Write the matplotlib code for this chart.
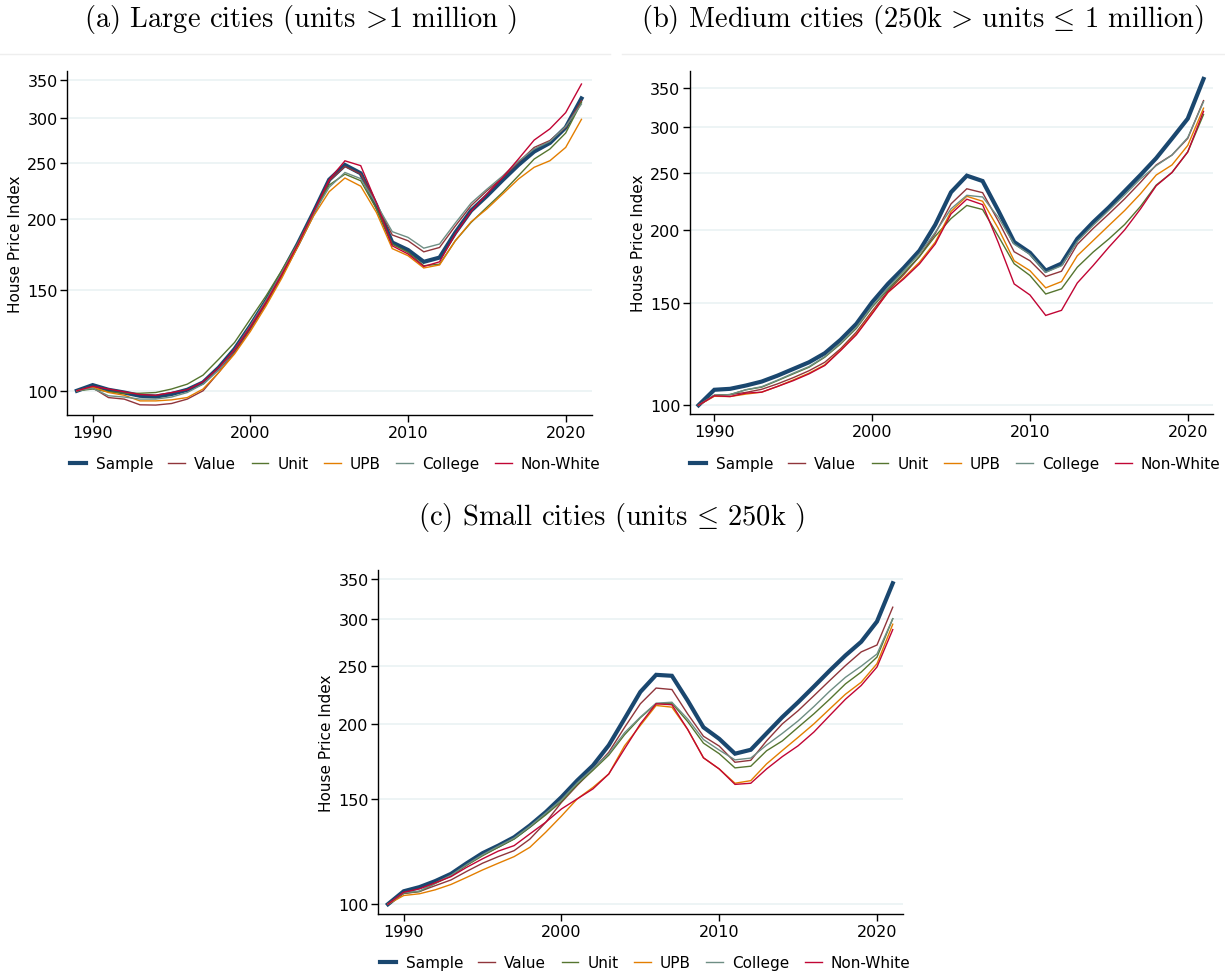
import numpy as np
import matplotlib
matplotlib.use('Agg')
import matplotlib.pyplot as plt
from matplotlib.ticker import NullLocator, FixedLocator, FixedFormatter

# 数据: 1989-2021 年房价指数
years = np.arange(1989, 2022)
series_names = ['Sample', 'Value', 'Unit', 'UPB', 'College', 'Non-White']

# (a) 大城市
large_sample = [100, 102.3, 100.4, 99.3, 98.0, 97.7, 98.7, 100.4, 103.4, 109.8, 118.3, 129.9, 143.7, 160.5, 180.5, 205, 234, 248.3, 240.1, 210.7, 181.7, 176.3, 168.1, 171.0, 189.1, 206.6, 219.2, 233.6, 248.3, 262.1, 271.4, 288.8, 324.6]
large_value = [100, 101.2, 97.3, 96.7, 94.5, 94.4, 95.0, 96.7, 100.0, 107.7, 116.5, 128, 142, 159, 179, 203.5, 233, 246.8, 239.5, 212, 187.3, 183.0, 175.0, 178.1, 194.2, 210.7, 223.7, 236, 251, 266.5, 274, 289, 321.7]
large_unit = [100, 100.7, 99.6, 99.0, 99.0, 99.3, 100.7, 102.7, 106.5, 113.6, 121.5, 133.5, 146.6, 162.5, 181, 205, 229, 239.3, 233, 208, 180.6, 174.6, 165.5, 166.5, 183.0, 197.0, 209.4, 222.4, 237.7, 254.3, 264.8, 282.4, 319.5]
large_upb = [100, 101.5, 99.3, 98.2, 96.0, 96.0, 96.4, 97.3, 100.7, 107.7, 116.0, 127.0, 140.8, 157.5, 178.5, 202, 223, 235.6, 228, 205, 177.3, 172.3, 164.0, 166.0, 183.0, 197.5, 208.0, 220.8, 234.6, 246.0, 252.6, 266.5, 298.4]
large_college = [100, 101, 98, 97.5, 96.7, 96.7, 97.5, 99.3, 102.7, 109, 118, 130, 144, 161, 180.5, 204, 227, 240.9, 235, 212, 189.8, 185.5, 177.6, 180.6, 196.5, 212.9, 225.2, 237.5, 252, 264.8, 273, 290, 317.3]
large_nonwhite = [100, 101.8, 100.7, 99.6, 98.5, 98.2, 99.3, 100.4, 103.7, 109.8, 118, 129.5, 143, 160, 180, 205, 234, 252.5, 247.6, 213, 179.3, 173.5, 165.0, 168.1, 188.0, 206, 220.8, 236.1, 254.3, 274.5, 287.2, 306.6, 344.0]

# (b) 中等城市
medium_sample = [100, 106.3, 106.7, 108.1, 109.8, 112.4, 115.4, 118.5, 122.8, 129.5, 137.9, 150.2, 161.5, 172.0, 184.2, 204.0, 232.0, 247.7, 242.5, 215.6, 190.6, 182.7, 170.2, 175.0, 193.0, 206.0, 218.5, 232.9, 248.3, 265.4, 286.8, 310.3, 363.0]
medium_value = [100, 104.0, 104.3, 105.2, 106.5, 108.8, 111.5, 114.6, 118.5, 125.0, 133.5, 145, 157, 167.5, 180, 197, 221.6, 235.2, 231.6, 207, 183.4, 177.0, 166.3, 169.8, 188.8, 201.0, 212.9, 226.0, 241.2, 258.4, 268.7, 287, 333.2]
medium_unit = [100, 104.0, 104.3, 106.3, 107.4, 110.2, 113.2, 116.2, 120.9, 127.4, 135.5, 147.3, 158, 168.5, 180, 195, 209.1, 220.2, 216.7, 195, 174.9, 167.0, 155.2, 158.4, 172.5, 183.1, 192.9, 204.2, 219.3, 238.6, 250.8, 272.1, 315.3]
medium_upb = [100, 103.6, 103.5, 104.5, 105.3, 107.7, 110.5, 113.5, 117.3, 124.3, 132.5, 144, 156, 165.5, 176, 190.5, 215, 228.3, 223.9, 201, 177.0, 170.2, 159.0, 163.0, 180.5, 191.6, 203.4, 215.8, 230.5, 248.3, 258.4, 279.1, 323.4]
medium_college = [100, 104.0, 104.3, 106.3, 107.6, 110.4, 113.5, 116.5, 121.2, 127.8, 136, 147.8, 159, 170, 182, 198, 217.3, 229.2, 227.7, 210, 189.0, 181.5, 169.1, 173.5, 191.0, 203.5, 216, 229.5, 244.5, 257.7, 268.7, 287.9, 331.8]
medium_nonwhite = [100, 103.8, 103.5, 104.9, 105.3, 107.7, 110.2, 113.2, 117.0, 124.1, 132.1, 143.5, 156.3, 164.7, 174.8, 189.1, 213.0, 225.7, 220.9, 190, 161.5, 154.6, 142.6, 145.5, 162.1, 173.6, 186.7, 199.9, 217.1, 238.0, 250.8, 272, 319.3]

# (c) 小城市
small_sample = [100, 105.1, 106.8, 109.3, 112.4, 117.1, 121.7, 125.3, 129.4, 135.4, 142.5, 151.0, 161.0, 170.6, 184.4, 204.2, 226.4, 241.8, 240.9, 219.0, 197.6, 189.0, 178.5, 181.2, 193.0, 205.5, 217.6, 231.1, 245.7, 260.5, 274.6, 296.9, 344.0]
small_value = [100, 104.2, 105.0, 107.4, 109.8, 113.5, 117.1, 120.1, 122.9, 128.5, 137, 148, 158, 168, 179.5, 197.5, 216.3, 229.8, 228.5, 208, 190.9, 183.8, 172.7, 174.0, 187.5, 200.2, 210.6, 223.1, 236.5, 250.5, 264.1, 271.2, 313.7]
small_unit = [100, 104.3, 105.0, 108.3, 111.5, 116.2, 120.5, 124.5, 128.5, 134.5, 141, 148.5, 158.5, 167.5, 177.5, 192, 205, 216.3, 216.8, 202, 185.9, 178.5, 169.0, 170.1, 180.5, 187.5, 197.6, 208.1, 220.1, 233.5, 244.4, 258.9, 300.1]
small_upb = [100, 103.4, 104.1, 105.7, 107.9, 110.9, 114.1, 117.1, 120.1, 124.5, 131.9, 140.4, 150.0, 156.8, 165.1, 184, 199.0, 214.9, 213.5, 196, 175.7, 168.3, 159.3, 160.9, 171.6, 180.7, 190.1, 200.2, 212.0, 224.4, 235.0, 252.4, 293.8]
small_college = [100, 104.5, 105.2, 108.5, 111.8, 116.5, 121, 125, 129, 135, 142, 149.5, 159.5, 168.5, 178.5, 193.5, 205.5, 216.8, 217.6, 204, 188.5, 181, 174.3, 175.5, 184.5, 193.0, 202.5, 214, 227, 239.5, 250, 262, 300.1]
small_nonwhite = [100, 104.7, 106.1, 108.6, 111.2, 115.3, 119.1, 122.7, 125.3, 131.1, 137.1, 144.3, 150.0, 155.9, 165.1, 181.9, 200.2, 216.3, 215.5, 196, 175.7, 168.3, 158.6, 159.3, 168.3, 176.5, 184.0, 194.0, 206.7, 220.1, 232.1, 249.2, 287.8]

ytick_vals = [100, 150, 200, 250, 300, 350]
xtick_vals = [1990, 2000, 2010, 2020]

# Stata s2color 配色
colors = ['#1a476f', '#90353b', '#55752f', '#e37e00', '#6e8e84', '#c10534']
widths = [3.0, 1.0, 1.0, 1.0, 1.0, 1.0]

plt.rcParams['font.family'] = ['DejaVu Sans']
plt.rcParams['mathtext.fontset'] = 'cm'

W, H = 1225, 978
fig = plt.figure(figsize=(W / 100, H / 100), dpi=100)


def px_axes(left, top, right, bottom):
    return fig.add_axes([left / W, 1 - bottom / H, (right - left) / W, (bottom - top) / H])


def draw_panel(ax, data, xlim, ylim, legend_xy):
    for vals, name, c, lw in zip(data, series_names, colors, widths):
        ax.plot(years, vals, color=c, lw=lw, label=name, solid_joinstyle='miter')
    ax.set_yscale('log')
    ax.yaxis.set_major_locator(FixedLocator(ytick_vals))
    ax.yaxis.set_major_formatter(FixedFormatter([str(v) for v in ytick_vals]))
    ax.yaxis.set_minor_locator(NullLocator())
    ax.set_xticks(xtick_vals)
    ax.set_xlim(*xlim)
    ax.set_ylim(*ylim)
    ax.grid(axis='y', color='#eaf2f3', lw=1.2)
    ax.set_axisbelow(True)
    for s in ['top', 'right']:
        ax.spines[s].set_visible(False)
    ax.spines['left'].set_linewidth(1.0)
    ax.spines['bottom'].set_linewidth(1.0)
    ax.tick_params(axis='both', labelsize=11.5, length=5, width=1.0, pad=2, direction='out')
    ax.set_ylabel('House Price Index', fontsize=11, labelpad=3)
    handles, labels = ax.get_legend_handles_labels()
    fig.legend(handles, labels, loc='center', ncol=6, frameon=False, fontsize=11,
               bbox_to_anchor=(legend_xy[0] / W, 1 - legend_xy[1] / H),
               handlelength=1.1, handletextpad=0.6, columnspacing=1.0)


ax_a = px_axes(67.3, 71.7, 591.7, 416)
draw_panel(ax_a, [large_sample, large_value, large_unit, large_upb, large_college, large_nonwhite],
           (1988.39, 2021.65), (90.7, 363), (335, 465))

ax_b = px_axes(690, 71.7, 1213, 415)
draw_panel(ax_b, [medium_sample, medium_value, medium_unit, medium_upb, medium_college, medium_nonwhite],
           (1988.46, 2021.6), (96.6, 375), (955, 465))

ax_c = px_axes(378.3, 571, 902.7, 915)
draw_panel(ax_c, [small_sample, small_value, small_unit, small_upb, small_college, small_nonwhite],
           (1988.39, 2021.63), (96.3, 362), (645, 964))

# 标题
title_kw = dict(fontsize=20.5, family='cmr10', ha='center', va='center')
fig.text(300 / W, 1 - 20 / H, r'(a) Large cities (units $\!>\!$1 million )', **title_kw)
fig.text(922 / W, 1 - 20 / H, r'(b) Medium cities (250k$\,>\,$units$\,\leq\,$1 million)', **title_kw)
fig.text(611 / W, 1 - 518 / H, r'(c) Small cities (units$\,\leq\,$250k )', **title_kw)

# 子图之间的浅色分隔线
fig.add_artist(plt.Line2D([0, 610 / W], [1 - 55 / H] * 2, color='#eeeeee', lw=1))
fig.add_artist(plt.Line2D([622 / W, 1], [1 - 55 / H] * 2, color='#eeeeee', lw=1))

fig.savefig('out.png', dpi=100)
